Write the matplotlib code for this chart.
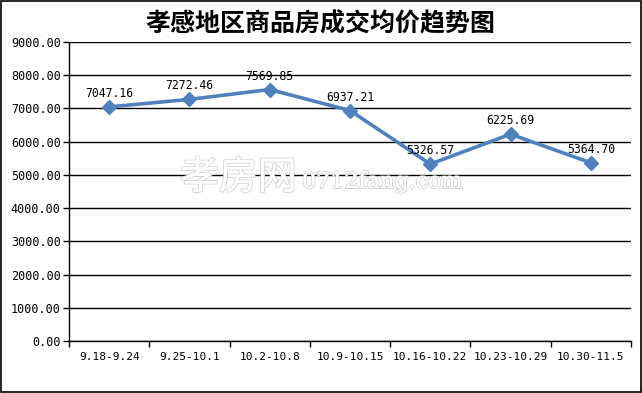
import matplotlib
matplotlib.use("Agg")
import matplotlib.pyplot as plt
import matplotlib.patheffects as pe
from matplotlib.patches import Rectangle

categories = ["9.18-9.24", "9.25-10.1", "10.2-10.8", "10.9-10.15",
              "10.16-10.22", "10.23-10.29", "10.30-11.5"]
values = [7047.16, 7272.46, 7569.85, 6937.21, 5326.57, 6225.69, 5364.70]
yticks = [0, 1000, 2000, 3000, 4000, 5000, 6000, 7000, 8000, 9000]
title = "孝感地区商品房成交均价趋势图"

plt.rcParams['font.family'] = ['DejaVu Sans Mono', 'Noto Sans CJK SC']

fig = plt.figure(figsize=(6.42, 3.93), dpi=100)
ax = fig.add_axes([69/642, 1-341/393, (631-69)/642, (341-42)/393])

x = list(range(len(categories)))
ax.plot(x, values, color="#4F81BD", lw=2.6, marker="D", markersize=7,
        markerfacecolor="#4F81BD", markeredgecolor="#4F81BD", zorder=3)
for xi, v in zip(x, values):
    ax.annotate(f"{v:.2f}", (xi, v), xytext=(0, 5), textcoords="offset points",
                ha="center", va="bottom", fontsize=8.3, family="DejaVu Sans Mono")

ax.set_xlim(-0.5, len(categories) - 0.5)
ax.set_ylim(0, 9000)
ax.set_yticks(yticks)
ax.set_yticklabels([f"{t:.2f}" for t in yticks], fontsize=8.5)
ax.set_xticks(x)
ax.set_xticklabels(categories, fontsize=8)
ax.tick_params(axis="x", length=0, pad=8)
ax.set_xticks([i - 0.5 for i in range(len(categories) + 1)], minor=True)
ax.tick_params(axis="x", which="minor", length=4, direction="out", color="black", width=1)
ax.tick_params(axis="y", length=4, direction="out", width=1, pad=2)
ax.yaxis.grid(True, color="black", lw=1)
ax.set_axisbelow(True)
for s in ["top", "right"]:
    ax.spines[s].set_visible(False)
ax.spines["left"].set_linewidth(1)
ax.spines["bottom"].set_linewidth(1)

fig.text(0.5, 1 - 24/393, title, ha="center", va="center", fontsize=18,
         family="Noto Sans CJK SC", fontweight="bold")

wm = fig.text(180/642, 1 - 178/393, "孝房网", ha="left", va="center", fontsize=28,
              family="Noto Sans CJK SC", color="white", zorder=2)
wm.set_path_effects([pe.withStroke(linewidth=1.3, foreground="#D0D0D0"), pe.Normal()])
wm2 = fig.text(302/642, 1 - 182/393, "0712fang.com", ha="left", va="center", fontsize=16,
               family="DejaVu Serif", color="white", zorder=2)
wm2.set_path_effects([pe.withStroke(linewidth=1.3, foreground="#D0D0D0"), pe.Normal()])

fig.patches.append(Rectangle((1/642, 1/393), 640/642, 391/393, transform=fig.transFigure,
                             fill=False, edgecolor="black", lw=1.2))

fig.savefig("out.png", dpi=100)
